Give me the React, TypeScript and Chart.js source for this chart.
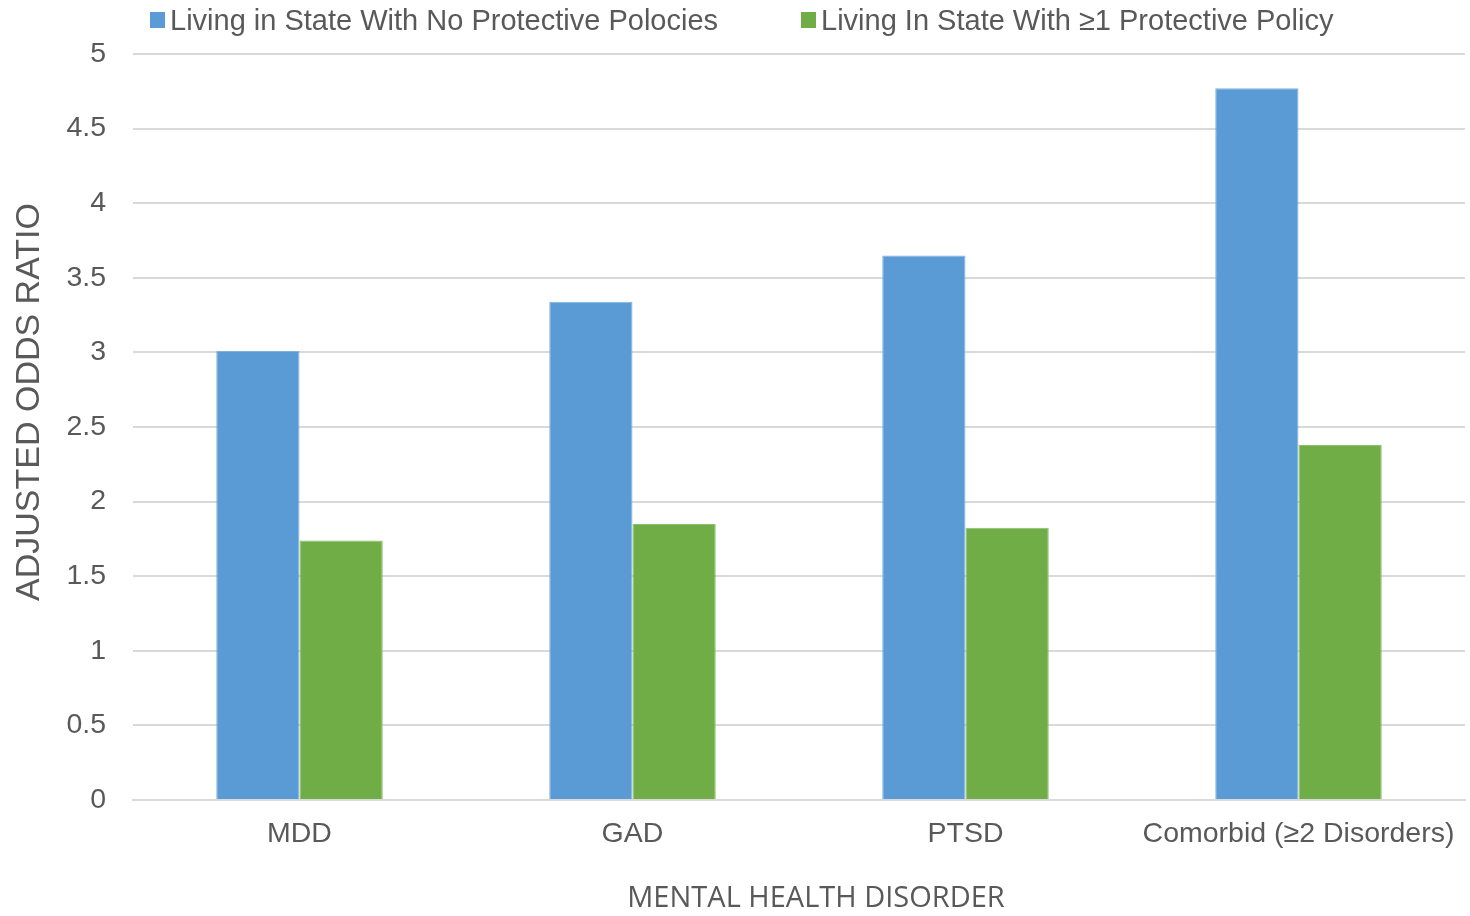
import React, { useEffect, useRef } from "react";
import { Chart, registerables } from "chart.js";

Chart.register(...registerables);

const categories = ["MDD", "GAD", "PTSD", "Comorbid (≥2 Disorders)"];
const noPolicyValues = [3.01, 3.34, 3.65, 4.77];
const policyValues = [1.74, 1.85, 1.825, 2.38];
const seriesNames = [
  "Living in State With No Protective Polocies",
  "Living In State With ≥1 Protective Policy",
];
const seriesColors = ["#5B9BD5", "#70AD47"];
const xTitle = "MENTAL HEALTH DISORDER";
const yTitle = "ADJUSTED ODDS RATIO";

const W = 1470;
const H = 916;
const AREA_LEFT = 133;
const AREA_TOP = 54;
const AREA_RIGHT = 1465;
const AREA_BOTTOM = 800;

const axisTitlesPlugin = {
  id: "axisTitles",
  afterDraw(chart: any) {
    const ctx = chart.ctx;
    ctx.save();
    ctx.fillStyle = "#595959";
    ctx.textAlign = "center";
    ctx.textBaseline = "middle";
    ctx.font = "29px 'Open Sans', 'Liberation Sans', sans-serif";
    ctx.fillText(xTitle, 816, 899);
    ctx.translate(30, 402);
    ctx.rotate(-Math.PI / 2);
    ctx.font = "34px 'Liberation Sans', Arial, sans-serif";
    ctx.fillText(yTitle, 0, 0);
    ctx.restore();
  },
};

function Legend() {
  return (
    <div
      style={{
        position: "absolute",
        left: 150,
        top: 3,
        height: 34,
        display: "flex",
        alignItems: "center",
        fontFamily: "'Liberation Sans', Arial, sans-serif",
        fontSize: 29,
        color: "#595959",
        whiteSpace: "nowrap",
      }}
    >
      {seriesNames.map((n, i) => (
        <div key={n} style={{ display: "flex", alignItems: "center", marginRight: i === 0 ? 83 : 0 }}>
          <span
            style={{
              display: "inline-block",
              width: 15,
              height: 16,
              background: seriesColors[i],
              marginRight: 5,
            }}
          />
          <span>{n}</span>
        </div>
      ))}
    </div>
  );
}

export default function App() {
  const ref = useRef<HTMLCanvasElement | null>(null);

  useEffect(() => {
    document.body.style.margin = "0";
    const canvas = ref.current;
    if (!canvas) return;
    const tickFont = { family: "'Liberation Sans', Arial, sans-serif", size: 28.5 };
    const chart = new Chart(canvas, {
      type: "bar",
      data: {
        labels: categories,
        datasets: [
          {
            label: seriesNames[0],
            data: noPolicyValues,
            backgroundColor: seriesColors[0],
            borderColor: "#7FB0DE",
            borderWidth: 1,
            categoryPercentage: 0.5,
            barPercentage: 1,
          },
          {
            label: seriesNames[1],
            data: policyValues,
            backgroundColor: seriesColors[1],
            borderColor: "#8CC06A",
            borderWidth: 1,
            categoryPercentage: 0.5,
            barPercentage: 1,
          },
        ],
      },
      options: {
        responsive: false,
        animation: false,
        maintainAspectRatio: false,
        layout: { padding: { left: 0, top: AREA_TOP, right: W - AREA_RIGHT, bottom: 0 } },
        plugins: {
          legend: { display: false },
          tooltip: { enabled: false },
          title: { display: false },
        },
        scales: {
          x: {
            grid: { display: false, drawTicks: false },
            border: { display: true, color: "#d9d9d9", width: 2 },
            ticks: { color: "#595959", font: tickFont, padding: 17, maxRotation: 0, autoSkip: false },
            afterFit(scale: any) {
              scale.height = H - AREA_BOTTOM;
              scale.paddingLeft = 0;
              scale.paddingRight = 0;
            },
          },
          y: {
            min: 0,
            max: 5,
            grid: { color: "#d9d9d9", lineWidth: 2, drawTicks: false },
            border: { display: false },
            ticks: {
              stepSize: 0.5,
              color: "#595959",
              font: tickFont,
              padding: 27,
              callback: (v: any) => String(Number(v)),
            },
            afterFit(scale: any) {
              scale.width = AREA_LEFT;
              scale.paddingTop = 0;
              scale.paddingBottom = 0;
            },
          },
        },
      },
      plugins: [axisTitlesPlugin],
    });
    return () => chart.destroy();
  }, []);

  return (
    <div style={{ position: "relative", width: W, height: H, background: "#fff" }}>
      <canvas ref={ref} width={W} height={H} style={{ display: "block", width: W, height: H }} />
      <Legend />
    </div>
  );
}
